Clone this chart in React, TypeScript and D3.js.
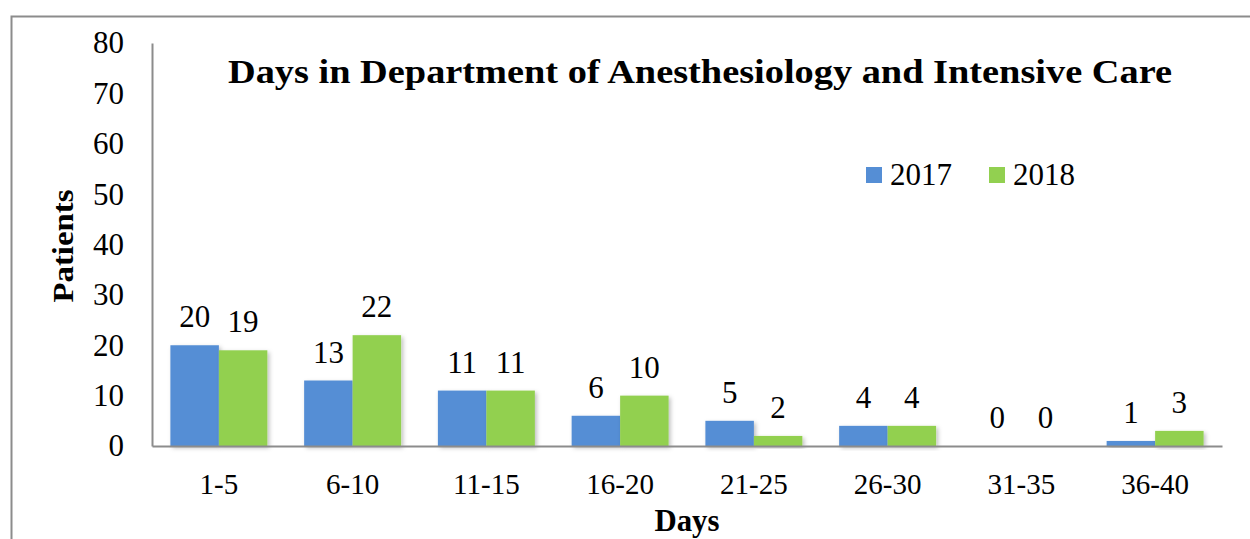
import React, { useEffect, useRef } from 'react';
import * as d3 from 'd3';

const categories = ['1-5', '6-10', '11-15', '16-20', '21-25', '26-30', '31-35', '36-40'];
const series2017 = [20, 13, 11, 6, 5, 4, 0, 1];
const series2018 = [19, 22, 11, 10, 2, 4, 0, 3];
const seriesNames = ['2017', '2018'];
const yTicks = [0, 10, 20, 30, 40, 50, 60, 70, 80];

const colors = ['#558ED5', '#92D050'];
const font = '"Liberation Serif", "Times New Roman", serif';

function App() {
  const svgRef = useRef<SVGSVGElement>(null);

  useEffect(() => {
    const svg = d3.select(svgRef.current);
    svg.selectAll('*').remove();

    const width = 1250;
    const height = 539;
    const margin = { top: 43, right: 28, bottom: 93, left: 152 };

    svg.attr('width', width).attr('height', height);

    // outer frame (only top and left are visible in the crop)
    svg.append('path')
      .attr('d', `M11.5,${height} V16.5 H${width}`)
      .attr('fill', 'none')
      .attr('stroke', '#8c8c8c')
      .attr('stroke-width', 2);

    const x = d3.scaleBand()
      .domain(categories)
      .range([margin.left, width - margin.right])
      .paddingInner(0.275)
      .paddingOuter(0.1375);

    const sub = d3.scaleBand()
      .domain(seriesNames)
      .range([0, x.bandwidth()]);

    const y = d3.scaleLinear()
      .domain([0, 80])
      .range([height - margin.bottom, margin.top]);

    const defs = svg.append('defs');
    const f = defs.append('filter').attr('id', 'shadow')
      .attr('x', '-10%').attr('y', '-10%').attr('width', '130%').attr('height', '130%');
    f.append('feDropShadow')
      .attr('dx', 2).attr('dy', 2).attr('stdDeviation', 2)
      .attr('flood-color', '#000').attr('flood-opacity', 0.25);

    // y axis
    const yAxis = svg.append('g')
      .attr('transform', `translate(${margin.left},0)`)
      .call(d3.axisLeft(y).tickValues(yTicks).tickSize(0).tickPadding(28));
    yAxis.select('.domain').attr('stroke', '#8c8c8c').attr('stroke-width', 2);
    yAxis.selectAll('text')
      .attr('font-family', font)
      .attr('font-size', 31)
      .attr('fill', '#000');

    const table = categories.map((c, i) => ({ c, values: [series2017[i], series2018[i]] }));

    const groups = svg.append('g')
      .selectAll('g')
      .data(table)
      .enter()
      .append('g')
      .attr('transform', (d) => `translate(${x(d.c)},0)`);

    groups.selectAll('rect')
      .data((d) => d.values.map((v, j) => ({ v, name: seriesNames[j], j })))
      .enter()
      .append('rect')
      .attr('x', (d) => sub(d.name)!)
      .attr('width', sub.bandwidth())
      .attr('y', (d) => y(d.v))
      .attr('height', (d) => y(0) - y(d.v))
      .attr('fill', (d) => colors[d.j])
      .attr('filter', 'url(#shadow)');

    groups.selectAll('text.val')
      .data((d) => d.values.map((v, j) => ({ v, name: seriesNames[j] })))
      .enter()
      .append('text')
      .attr('class', 'val')
      .attr('x', (d) => sub(d.name)! + sub.bandwidth() / 2)
      .attr('y', (d) => y(d.v) - 18)
      .attr('text-anchor', 'middle')
      .attr('font-family', font)
      .attr('font-size', 31)
      .text((d) => d.v);

    // x axis
    const xAxis = svg.append('g')
      .attr('transform', `translate(0,${y(0)})`)
      .call(d3.axisBottom(x).tickSize(0).tickPadding(27));
    xAxis.select('.domain').attr('stroke', '#8c8c8c').attr('stroke-width', 2);
    xAxis.selectAll('text')
      .attr('font-family', font)
      .attr('font-size', 29)
      .attr('fill', '#000')
      .attr('dy', '0.71em');

    // title
    svg.append('text')
      .attr('x', 700)
      .attr('y', 83)
      .attr('text-anchor', 'middle')
      .attr('font-family', font)
      .attr('font-weight', 'bold')
      .attr('font-size', 33)
      .attr('textLength', 944)
      .attr('lengthAdjust', 'spacingAndGlyphs')
      .text('Days in Department of Anesthesiology and Intensive Care');

    // axis titles
    svg.append('text')
      .attr('transform', `translate(73,246) rotate(-90)`)
      .attr('text-anchor', 'middle')
      .attr('font-family', font)
      .attr('font-weight', 'bold')
      .attr('font-size', 30)
      .attr('textLength', 113)
      .attr('lengthAdjust', 'spacingAndGlyphs')
      .text('Patients');

    svg.append('text')
      .attr('x', 687)
      .attr('y', 531)
      .attr('text-anchor', 'middle')
      .attr('font-family', font)
      .attr('font-weight', 'bold')
      .attr('font-size', 31)
      .attr('textLength', 65)
      .attr('lengthAdjust', 'spacingAndGlyphs')
      .text('Days');

    // legend
    const legend = svg.append('g')
      .selectAll('g')
      .data(seriesNames)
      .enter()
      .append('g')
      .attr('transform', (d, i) => `translate(${866 + i * 123},167)`);
    legend.append('rect')
      .attr('width', 16).attr('height', 16)
      .attr('fill', (d, i) => colors[i]);
    legend.append('text')
      .attr('x', 24)
      .attr('y', 18)
      .attr('font-family', font)
      .attr('font-size', 31)
      .text((d) => d);
  }, []);

  return <svg ref={svgRef} style={{ position: 'absolute', left: 0, top: 0 }}></svg>;
}

export default App;
